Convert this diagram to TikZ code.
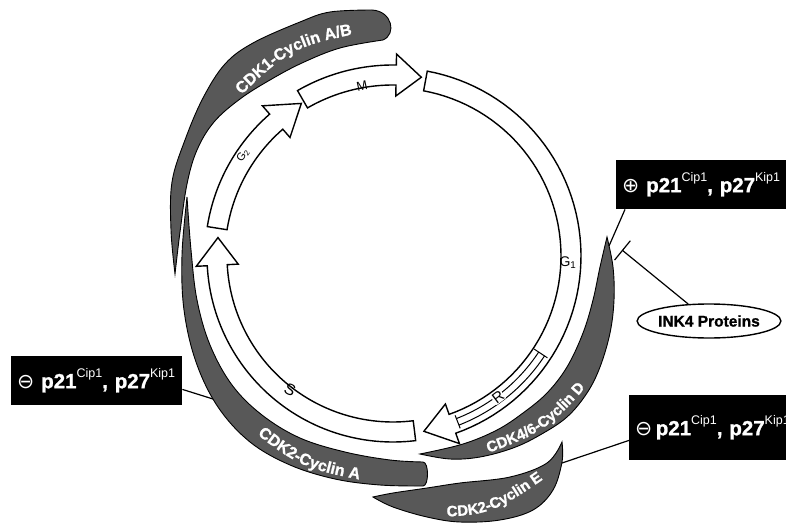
\documentclass[tikz,border=0pt]{standalone}
\usepackage{fontspec}
\setmainfont{Liberation Sans}
\setsansfont{Liberation Sans}
\newfontfamily\symfont{DejaVu Sans}
\newfontfamily\heavyfont[BoldFeatures={FakeBold=1.2}]{Liberation Sans}
\usetikzlibrary{shapes.geometric,arrows.meta,decorations.text,calc}
\definecolor{bandgray}{RGB}{88,88,88}

% small upright superscript used in the inhibitor boxes
\newcommand\kipsup[1]{\raisebox{0.5em}{\fontsize{12.5}{12.5}\selectfont\mdseries #1}}

% curved block arrow of the cycle, centred on (393,256):
% #1 tail angle, #2 head-base angle, #3 tip angle, #4 radius, #5 half shaft, #6 half head
\newcommand{\cyclearrow}[6]{%
  \draw[cyclebody]
    plot[domain=#1:#2,samples=60] ({393+(#4+#5)*cos(\x)},{256+(#4+#5)*sin(\x)})
    -- ({393+(#4+#6)*cos(#2)},{256+(#4+#6)*sin(#2)})
    -- ({393+#4*cos(#3)},{256+#4*sin(#3)})
    -- ({393+(#4-#6)*cos(#2)},{256+(#4-#6)*sin(#2)})
    -- plot[domain=#2:#1,samples=60] ({393+(#4-#5)*cos(\x)},{256+(#4-#5)*sin(\x)})
    -- cycle;}

\begin{document}
\begin{tikzpicture}[x=1pt,y=-1pt,
  cyclebody/.style={draw=black,line width=1.4pt,fill=white,line join=miter},
  band/.style={draw=black,line width=0.9pt,fill=bandgray},
  phase/.style={font=\fontsize{13}{15}\selectfont,inner sep=1pt},
  inhibbox/.style={fill=black,text=white,anchor=north west,inner xsep=6pt,
    minimum height=49pt,align=left,font=\heavyfont\fontsize{20.5}{24}\selectfont\bfseries},
  link/.style={draw=black,line width=1.2pt},
  bandtext/.style={decorate,decoration={text along path,text align=center,text color=white,text={#1}}}]

\useasboundingbox (0,0) rectangle (786,524);
\clip (0,0) rectangle (786,524);

% ---- kinase complexes (dark crescents) ----
% CDK1-Cyclin A/B
\draw[band] plot[smooth,tension=0.6] coordinates{(372,10) (330,12) (300,22) (253,43) (225,64) (203,98) (185,140) (172,182) (171,230) (175,274)}
  -- plot[smooth,tension=0.6] coordinates{(175,274) (180,232) (187,184) (197,150) (214,122) (240,99) (270,80) (302,63) (340,48) (383,40)}
  .. controls (397,34) and (392,11) .. (372,10) -- cycle;
{\heavyfont\bfseries\fontsize{16}{16}\selectfont
\path[bandtext={|\heavyfont\bfseries\fontsize{16}{16}\selectfont|CDK1-Cyclin A/B}] (215,122) .. controls (290,45) .. (390,28);}

% CDK4/6-Cyclin D
\draw[band] plot[smooth,tension=0.6] coordinates{(607,237) (613,267) (614,300) (610,333) (600,367) (587,393) (567,417) (540,435) (513,448) (480,457) (450,459) (420,454)}
  -- plot[smooth,tension=0.6] coordinates{(420,454) (463,444) (497,430) (523,413) (547,393) (567,367) (583,333) (593,300) (600,267) (607,237)} -- cycle;
{\heavyfont\bfseries\fontsize{15}{15}\selectfont
\path[bandtext={|\heavyfont\bfseries\fontsize{15}{15}\selectfont|CDK4/6-Cyclin D}] (457,464) .. controls (548,432) .. (607,362);}

% CDK2-Cyclin A
\draw[band] plot[smooth,tension=0.6] coordinates{(423,486) (380,485) (335,479) (290,465) (250,442) (218,407) (196,362) (184,310) (182,255) (187,197)}
  -- plot[smooth,tension=0.6] coordinates{(187,197) (191,250) (197,300) (210,345) (232,385) (262,415) (300,438) (345,452) (390,460) (423,462)}
  .. controls (429,462) and (429,486) .. (423,486) -- cycle;
{\heavyfont\bfseries\fontsize{16}{16}\selectfont
\path[bandtext={|\heavyfont\bfseries\fontsize{16}{16}\selectfont|CDK2-Cyclin A}] (233,415) .. controls (300,469) .. (390,485);}

% CDK2-Cyclin E
\draw[band] plot[smooth,tension=0.6] coordinates{(562,442) (547,463) (510,477) (460,483) (427,488) (393,493) (373,497)}
  -- plot[smooth,tension=0.6] coordinates{(373,497) (393,507) (427,517) (460,522) (500,520) (533,510) (553,490) (562,462) (562,442)} -- cycle;
{\heavyfont\bfseries\fontsize{15}{15}\selectfont
\path[bandtext={|\heavyfont\bfseries\fontsize{15}{15}\selectfont|CDK2-Cyclin E}] (420,517) .. controls (491,516) .. (565,464);}

% ---- cell-cycle phases ----
\cyclearrow{-171}{-131}{-121}{178}{10}{21} % G2
\cyclearrow{-120}{-89}{-81}{181}{10}{21}   % M
\cyclearrow{83}{177}{186}{176}{10}{21}     % S
\cyclearrow{-79.5}{70.5}{80}{178}{10}{21}  % G1

% restriction point inside G1
\draw[line width=1pt] plot[domain=33.4:68.7,samples=40] ({393+174.5*cos(\x)},{256+174.5*sin(\x)});
\draw[line width=1pt] plot[domain=33.4:68.7,samples=40] ({393+181.5*cos(\x)},{256+181.5*sin(\x)});
\draw[line width=1pt] ({393+169*cos(33.4)},{256+169*sin(33.4)}) -- ({393+185*cos(33.4)},{256+185*sin(33.4)});
\draw[line width=1pt] ({393+171*cos(68.7)},{256+171*sin(68.7)}) -- ({393+185*cos(68.7)},{256+185*sin(68.7)});

\node[phase,rotate=12] (lblM) at (362,86) {M};
\node[phase,font=\fontsize{14}{16}\selectfont] (lblGone) at (568,263) {G\textsubscript{1}};
\node[phase,font=\fontsize{16}{18}\selectfont,rotate=-25] (lblS) at (290,390) {S};
\node[phase,font=\fontsize{11}{13}\selectfont,rotate=56] (lblGtwo) at (243,155) {G\textsubscript{2}};
\node[phase,font=\fontsize{15}{16}\selectfont,rotate=37,fill=white,inner sep=0.5pt] (lblR) at (498,397) {R};

% ---- inhibitor boxes and regulators ----
\node[inhibbox,text width=158pt] (b1) at (616,160) {{\symfont\mdseries ⊕} p21\kipsup{Cip1}, p27\kipsup{Kip1}};
\node[inhibbox,text width=159pt] (b2) at (11,356) {{\symfont\mdseries ⊖} p21\kipsup{Cip1}, p27\kipsup{Kip1}};
\node[inhibbox,text width=170pt,minimum height=65pt] (b3) at (629,395) {{\symfont\mdseries ⊖}\,p21\kipsup{Cip1}, p27\kipsup{Kip1}};

\node[draw=black,line width=1.4pt,fill=white,ellipse,minimum width=122pt,minimum height=34pt,inner sep=0pt,
      font=\heavyfont\fontsize{15.5}{18}\selectfont\bfseries] (ink) at (709,321) {INK4 Proteins};

\coordinate (dtip) at (609,246);
\coordinate (inkbar) at (622,250);
\coordinate (cdkAhook) at (213,399);
\coordinate (cdkEhook) at (562,463);

\draw[link] ($(b1.south west)+(9,0)$) -- (dtip);
\draw[link,-{Bar[width=25pt,line width=1.2pt]}] (ink) -- (inkbar);
\draw[link] ($(b2.south east)+(0,-16)$) -- (cdkAhook);
\draw[link] ($(b3.south west)+(0,-20)$) -- (cdkEhook);
\end{tikzpicture}
\end{document}
